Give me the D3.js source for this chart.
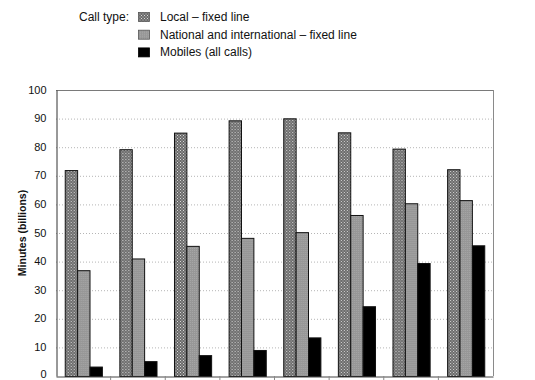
<!DOCTYPE html>
<html>
<head>
<meta charset="utf-8">
<script src="https://cdn.jsdelivr.net/npm/d3@7"></script>
<style>
  html, body { margin: 0; padding: 0; background: #fff; }
  svg { display: block; font-family: "Liberation Sans", Arial, sans-serif; }
</style>
</head>
<body>
<svg id="chart" width="535" height="380"></svg>
<script>
const years = ["1995", "1996", "1997", "1998", "1999", "2000", "2001", "2002"];
const seriesNames = ["Local – fixed line", "National and international – fixed line", "Mobiles (all calls)"];
const localValues = [72, 79.3, 85.1, 89.4, 90.1, 85.2, 79.5, 72.3];
const nationalValues = [37, 41.1, 45.5, 48.3, 50.3, 56.3, 60.4, 61.5];
const mobileValues = [3.3, 5.2, 7.3, 9.1, 13.5, 24.4, 39.5, 45.7];
const yTicks = [0, 10, 20, 30, 40, 50, 60, 70, 80, 90, 100];
const legendTitle = "Call type:";
const yTitle = "Minutes (billions)";

const svg = d3.select("#chart");
const defs = svg.append("defs");

// Dotted pattern for local
const p1 = defs.append("pattern").attr("id", "patLocal").attr("patternUnits", "userSpaceOnUse")
  .attr("width", 3).attr("height", 3);
p1.append("rect").attr("width", 3).attr("height", 3).attr("fill", "#6a6a6a");
p1.append("rect").attr("x", 0).attr("y", 0).attr("width", 1).attr("height", 1).attr("fill", "#d8d8d8");
p1.append("rect").attr("x", 1.5).attr("y", 1.5).attr("width", 1).attr("height", 1).attr("fill", "#c8c8c8");

// fine pattern for national
const p2 = defs.append("pattern").attr("id", "patNat").attr("patternUnits", "userSpaceOnUse")
  .attr("width", 2).attr("height", 2);
p2.append("rect").attr("width", 2).attr("height", 2).attr("fill", "#979797");
p2.append("rect").attr("x", 0).attr("y", 0).attr("width", 1).attr("height", 1).attr("fill", "#a6a6a6");

const fills = ["url(#patLocal)", "url(#patNat)", "#000"];

const plot = { left: 56, right: 493, top: 90, bottom: 376 };

const y = d3.scaleLinear().domain([0, 100]).range([plot.bottom, plot.top]);
const x0 = d3.scaleBand().domain(years).range([plot.left, plot.right])
  .paddingInner(0.32).paddingOuter(0.16);
const x1 = d3.scaleBand().domain([0, 1, 2]).range([0, x0.bandwidth()]);

// gridlines
svg.append("g").selectAll("line").data(yTicks.filter(d => d > 0 && d < 100)).join("line")
  .attr("x1", plot.left).attr("x2", plot.right)
  .attr("y1", d => y(d) + 0.5).attr("y2", d => y(d) + 0.5)
  .attr("stroke", "#b5b5b5").attr("stroke-width", 1).attr("stroke-dasharray", "1,2");

// frame top and right
svg.append("line").attr("x1", plot.left).attr("x2", plot.right)
  .attr("y1", plot.top + 0.5).attr("y2", plot.top + 0.5).attr("stroke", "#7a7a7a");
svg.append("line").attr("x1", plot.right + 0.5).attr("x2", plot.right + 0.5)
  .attr("y1", plot.top).attr("y2", plot.bottom).attr("stroke", "#8a8a8a");

// bars
const data = years.map((yr, i) => ({ year: yr, vals: [localValues[i], nationalValues[i], mobileValues[i]] }));
const groups = svg.append("g").selectAll("g").data(data).join("g")
  .attr("transform", d => `translate(${x0(d.year)},0)`);
groups.selectAll("rect").data(d => d.vals.map((v, k) => ({ v, k }))).join("rect")
  .attr("x", d => x1(d.k) + 0.5)
  .attr("y", d => y(d.v) + 0.5)
  .attr("width", x1.bandwidth())
  .attr("height", d => plot.bottom - y(d.v))
  .attr("fill", d => fills[d.k])
  .attr("stroke", "#111").attr("stroke-width", 1);

// y axis
const yAxis = d3.axisLeft(y).tickValues(yTicks).tickSize(0).tickPadding(10);
const gy = svg.append("g").attr("transform", `translate(${plot.left + 0.5},0)`).call(yAxis);
gy.select(".domain").attr("stroke", "#333");
gy.selectAll("text").attr("font-size", 11).attr("fill", "#111")
  .attr("dy", d => d === 0 ? "0.12em" : "0.28em")
  .attr("font-family", "'Liberation Sans', Arial, sans-serif");

// x axis (labels fall outside the visible area; tick marks only)
const xAxis = d3.axisBottom(x0).tickSize(0).tickFormat("");
const gx = svg.append("g").attr("transform", `translate(0,${plot.bottom + 0.5})`).call(xAxis);
gx.select(".domain").attr("stroke", "#444");
svg.append("g").selectAll("line").data(years.slice(1)).join("line")
  .attr("x1", d => x0(d) - x0.step() * x0.paddingInner() / 2)
  .attr("x2", d => x0(d) - x0.step() * x0.paddingInner() / 2)
  .attr("y1", plot.bottom).attr("y2", plot.bottom + 4).attr("stroke", "#888");

// y title
svg.append("text")
  .attr("transform", `translate(26,${(plot.top + plot.bottom) / 2}) rotate(-90)`)
  .attr("text-anchor", "middle").attr("font-size", 10.5).attr("font-weight", "bold")
  .attr("fill", "#111").text(yTitle);

// legend
const legend = svg.append("g");
legend.append("text").attr("x", 79).attr("y", 21).attr("font-size", 12).attr("fill", "#111").text(legendTitle);
const rows = legend.selectAll("g").data(seriesNames).join("g")
  .attr("transform", (d, i) => `translate(0,${i * 17.7})`);
rows.append("rect").attr("x", 138.5).attr("y", 12.5).attr("width", 11).attr("height", 9)
  .attr("fill", (d, i) => fills[i]).attr("stroke", (d, i) => i === 2 ? "#000" : "#555").attr("stroke-width", 0.8);
rows.append("text").attr("x", 160).attr("y", 21).attr("font-size", 12).attr("fill", "#111").text(d => d);
</script>
</body>
</html>
